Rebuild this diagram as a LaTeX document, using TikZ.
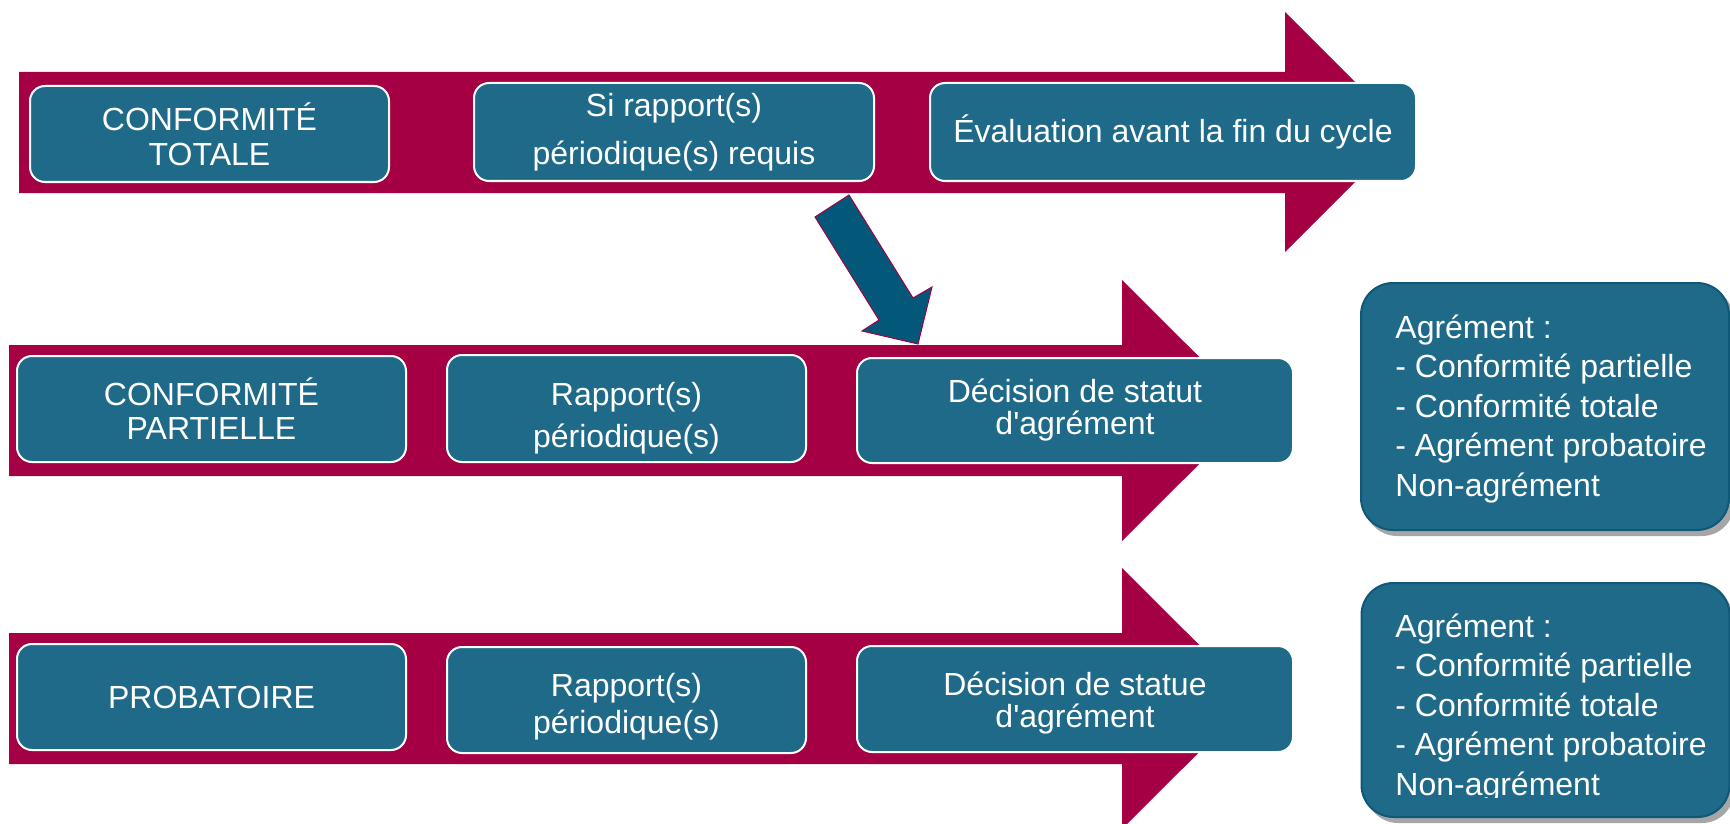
\documentclass[tikz,border=0pt]{standalone}
\usepackage{fontspec}
\setmainfont{Liberation Sans}[Ligatures=TeXOff]
\definecolor{crim}{HTML}{A50044}
\definecolor{boxteal}{HTML}{1F6A88}
\definecolor{darkteal}{HTML}{03587A}
\definecolor{rbord}{HTML}{0F5878}
\begin{document}
\begin{tikzpicture}[x=0.5pt,y=-0.5pt,
  bigarrow/.style={fill=crim, draw=none},
  stagebox/.style={rounded corners=7.5pt, fill=boxteal, draw=white, line width=1pt, text=white, inner sep=0pt, align=center},
  resbox/.style={rectangle, rounded corners=16pt, fill=boxteal, draw=rbord, line width=1pt, minimum width=184pt, inner sep=0pt},
  shadowbox/.style={rounded corners=16pt, fill=black!35, draw=none},
  restext/.style={text=white, align=left, inner sep=0pt, anchor=west, font=\fontsize{16}{19.75}\selectfont},
  diagarrow/.style={fill=darkteal, draw=crim, line width=0.5pt, line join=miter}
]
\useasboundingbox (0,0) rectangle (1730,824);

% big crimson arrows
\fill[bigarrow] (19,72) -- (1285,72) -- (1285,12) -- (1405,132) -- (1285,252) -- (1285,193) -- (19,193) -- cycle;
\fill[bigarrow] (9,345) -- (1122,345) -- (1122,280) -- (1253,410.5) -- (1122,541) -- (1122,476) -- (9,476) -- cycle;
\fill[bigarrow] (9,633) -- (1122,633) -- (1122,568) -- (1253,698.5) -- (1122,829) -- (1122,764) -- (9,764) -- cycle;

% diagonal arrow
\draw[diagarrow] (815,217) -- (849,195) -- (913,298) -- (932,287) -- (918,344) -- (862,331) -- (879,320) -- cycle;

% row 1
\node[stagebox, minimum width=179.5pt, minimum height=48pt, font=\fontsize{16}{17.5}\selectfont] (b1) at (209.5,134) {CONFORMITÉ\\TOTALE};
\node[stagebox, minimum width=200pt, minimum height=49pt, font=\fontsize{16}{24}\selectfont] (b2) at (674,132) {Si rapport(s)\\périodique(s) requis};
\node[stagebox, minimum width=243pt, minimum height=49pt, font=\fontsize{16}{19}\selectfont] (b3) at (1173,132) {Évaluation avant la fin du cycle};

% row 2
\node[stagebox, minimum width=194.5pt, minimum height=53pt, font=\fontsize{16}{17}\selectfont] (b4) at (211.5,409) {CONFORMITÉ\\PARTIELLE};
\node[stagebox, minimum width=179.5pt, minimum height=53.5pt, font=\fontsize{16}{21}\selectfont] (b5) at (626.5,408.5) {\rule{0pt}{21.6pt}Rapport(s)\\périodique(s)};
\node[stagebox, minimum width=218pt, minimum height=52.5pt, font=\fontsize{16}{16}\selectfont] (b6) at (1075,410.5) {Décision de statut\\d'agrément};

% row 3
\node[stagebox, minimum width=194.5pt, minimum height=53pt, font=\fontsize{16}{19}\selectfont] (b7) at (211.5,697) {PROBATOIRE};
\node[stagebox, minimum width=179.5pt, minimum height=53pt, font=\fontsize{16}{18.5}\selectfont] (b8) at (626.5,700) {\rule{0pt}{18.6pt}Rapport(s)\\périodique(s)};
\node[stagebox, minimum width=218pt, minimum height=53pt, font=\fontsize{16}{16}\selectfont] (b9) at (1075,699) {\rule{0pt}{15.6pt}Décision de statue\\d'agrément};

% result boxes
\fill[shadowbox] (1365,288) rectangle (1734,536);
\node[resbox, minimum height=123.5pt] (r1) at (1545,406.5) {};
\node[restext] (t1) at (1395,409) {Agrément :\\- Conformité partielle\\- Conformité totale\\- Agrément probatoire\\Non-agrément};

\fill[shadowbox] (1366,588) rectangle (1734,823);
\node[resbox, minimum height=117pt] (r2) at (1545.5,700) {};
\begin{scope}
\clip (1360,580) rectangle (1730,797);
\node[restext] (t2) at (1395,708) {Agrément :\\- Conformité partielle\\- Conformité totale\\- Agrément probatoire\\Non-agrément};
\end{scope}
\end{tikzpicture}
\end{document}
